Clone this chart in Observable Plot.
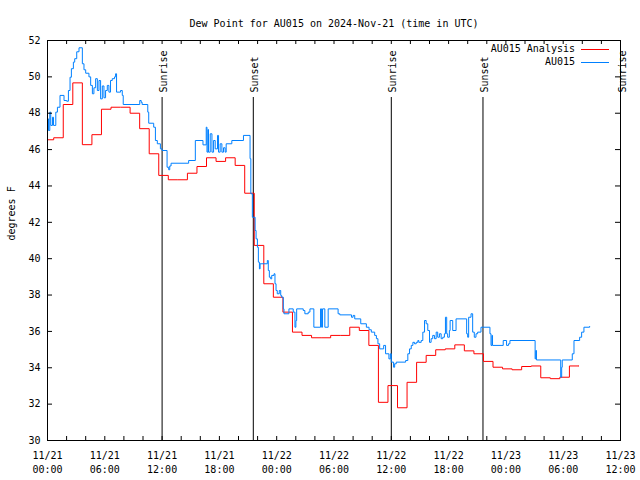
<!DOCTYPE html>
<html><head><meta charset="utf-8">
<script src="https://cdn.jsdelivr.net/npm/d3@7"></script>
<script src="https://cdn.jsdelivr.net/npm/@observablehq/plot@0.6"></script>
<style>body{margin:0;background:#fff}svg{display:block}</style>
</head><body><div id="chart"></div>
<script>
const title = "Dew Point for AU015 on 2024-Nov-21 (time in UTC)";
const yLabel = "degrees F";
const seriesNames = ["AU015 Analysis", "AU015"];
const seriesColors = ["#ff0000", "#0080ff"];
const xDomain = ["2024-11-21T00:00Z", "2024-11-23T12:00Z"];
const yDomain = [30, 52];
const yTicks = [30, 32, 34, 36, 38, 40, 42, 44, 46, 48, 50, 52];
const xTickHours = [0, 6, 12, 18, 24, 30, 36, 42, 48, 54, 60];
const xTickLabels = ["11/21\n00:00", "11/21\n06:00", "11/21\n12:00", "11/21\n18:00", "11/22\n00:00", "11/22\n06:00", "11/22\n12:00", "11/22\n18:00", "11/23\n00:00", "11/23\n06:00", "11/23\n12:00"];
const minorTickHours = [0,2,4,6,8,10,12,14,16,18,20,22,24,26,28,30,32,34,36,38,40,42,44,46,48,50,52,54,56,58,60];
const eventHours = [12, 21.55, 36, 45.6, 60];
const eventLabels = ["Sunrise", "Sunset", "Sunrise", "Sunset", "Sunrise"];

// Analysis: hourly values starting at this time
const redStartUTC = "2024-11-20T23:39Z";
const redValues = [46.54, 46.65, 48.48, 49.67, 46.27, 46.82, 48.22, 48.33, 48.33, 48.0, 47.15, 45.77, 44.58, 44.34, 44.34, 44.7, 45.07, 45.55, 45.35, 45.55, 45.13, 43.6, 40.73, 38.62, 37.88, 37.06, 35.96, 35.78, 35.65, 35.65, 35.78, 35.78, 36.23, 36.05, 35.23, 32.1, 33.02, 31.8, 33.2, 34.3, 34.68, 34.99, 35.04, 35.26, 34.93, 34.77, 34.35, 34.03, 33.94, 33.89, 34.07, 34.1, 33.45, 33.4, 33.48, 34.1, 34.1];

// Observations: hours after 11/21 00:00 UTC and values
const blueHours = [0.00,0.10,0.24,0.34,0.52,0.63,0.87,1.04,1.31,1.73,2.01,2.19,2.36,2.50,2.71,2.85,3.06,3.30,3.65,3.82,4.00,4.34,4.52,4.70,4.86,5.04,5.22,5.39,5.56,5.74,5.91,6.08,6.26,6.43,6.60,6.78,7.02,7.13,7.23,7.65,7.83,7.93,9.66,9.81,9.91,10.50,10.60,11.12,11.30,11.50,11.82,12.00,12.52,12.69,12.80,12.94,14.78,15.48,16.28,16.62,16.70,16.80,16.86,17.04,17.22,17.39,17.56,17.80,17.91,18.08,18.26,18.43,18.60,18.71,19.30,20.52,21.21,21.29,21.45,21.74,21.84,21.98,22.08,22.19,22.26,23.02,23.12,23.23,23.37,23.48,23.72,23.82,23.93,24.06,24.27,24.42,24.52,24.69,24.76,25.28,25.73,25.91,26.01,26.09,26.78,26.95,27.30,27.48,27.89,28.59,28.70,28.80,29.04,29.39,30.43,30.61,31.83,32.00,32.17,32.80,33.39,33.67,33.91,34.26,34.44,34.60,34.78,35.20,35.40,35.75,35.90,36.00,36.24,36.35,36.52,37.50,37.73,37.91,38.09,38.26,38.43,38.61,38.78,38.88,39.13,39.30,39.48,39.65,39.82,40.00,40.17,40.34,40.52,40.70,40.86,41.04,41.22,41.39,41.56,41.67,41.80,41.90,42.08,42.16,42.43,42.78,43.89,44.00,44.10,44.35,44.52,44.69,44.87,45.04,45.39,46.33,46.44,46.54,46.60,47.72,48.07,48.27,48.42,51.06,51.13,51.20,53.74,53.84,53.90,54.95,55.13,55.72,55.93,56.17,56.77];
const blueValues = [47.69,47.05,48.06,47.33,47.78,47.33,48.06,48.33,48.98,48.70,48.66,49.25,49.98,50.45,50.81,51.00,51.38,51.60,50.72,50.39,50.20,50.00,49.53,49.07,49.40,49.90,49.25,49.80,48.79,49.50,48.85,49.25,49.53,49.16,49.80,49.90,50.00,50.17,49.16,49.25,48.98,48.48,48.70,48.60,48.48,48.06,47.45,47.23,46.50,46.32,46.04,45.95,45.03,44.89,45.10,45.25,45.40,46.50,46.26,47.23,45.86,47.10,45.86,46.87,45.86,46.50,46.04,46.78,45.86,46.32,45.86,46.10,45.86,46.32,46.50,46.78,45.50,43.57,42.28,41.55,41.09,40.63,39.81,39.44,39.72,39.90,39.35,38.98,38.89,39.08,39.17,38.62,38.25,38.07,38.25,37.98,37.88,37.24,36.97,37.24,37.06,36.23,36.60,37.24,37.15,36.97,37.06,37.24,36.23,37.24,36.23,37.24,36.23,37.24,36.97,36.91,36.78,36.88,36.69,36.42,36.23,36.09,35.96,35.78,35.60,35.32,35.04,35.23,34.77,34.49,34.77,34.31,34.03,34.22,34.31,34.40,34.77,35.04,35.23,35.40,35.32,35.40,35.50,35.40,35.50,35.96,36.60,36.42,36.05,35.40,35.60,35.78,35.60,35.96,35.68,35.87,35.60,35.68,35.87,36.78,35.87,35.68,36.05,36.60,36.05,36.69,35.87,35.68,36.78,36.97,35.96,35.68,35.87,35.96,36.23,35.87,35.23,35.78,35.23,35.50,35.23,35.32,35.50,34.49,34.95,34.43,33.48,34.03,34.43,34.77,35.50,35.68,35.96,36.23,36.27];

const HOUR = 3600000;
const t0 = Date.parse(xDomain[0]);
const hourDate = h => new Date(t0 + h * HOUR);
const redT0 = Date.parse(redStartUTC);
const red = redValues.map((v, i) => ({t: new Date(redT0 + i * HOUR), v}));
const blue = blueHours.map((h, i) => ({t: hourDate(h), v: blueValues[i]}));
const events = eventHours.map((h, i) => ({t: hourDate(h), label: eventLabels[i]}));

const W = 640, H = 480, mL = 47, mR = 20, mT = 40, mB = 40;
const fw = W - mL - mR, fh = H - mT - mB;
const FONT = "'DejaVu Sans Mono', monospace";

const legend = () => {
  const g = d3.create("svg:g").attr("font-family", FONT).attr("font-size", 10);
  const xr = W - mR;
  seriesNames.forEach((name, i) => {
    const y = mT + 9 + i * 13;
    g.append("text").attr("x", xr - 45).attr("y", y).attr("dy", "0.32em")
      .attr("text-anchor", "end").attr("fill", "black").text(name);
    g.append("line").attr("x1", xr - 39).attr("x2", xr - 11)
      .attr("y1", y + 0.5).attr("y2", y + 0.5).attr("stroke", seriesColors[i]);
  });
  return g.node();
};

const chart = Plot.plot({
  width: W, height: H,
  marginLeft: mL, marginRight: mR, marginTop: mT, marginBottom: mB,
  style: {fontFamily: FONT, fontSize: "10px", background: "white", color: "black"},
  x: {type: "utc", domain: xDomain.map(d => new Date(d)), axis: null},
  y: {domain: yDomain, axis: null},
  marks: [
    Plot.ruleX(events, {x: "t", insetTop: 57, stroke: "black"}),
    Plot.text(events, {x: "t", text: "label", frameAnchor: "top", rotate: -90, textAnchor: "start", dy: 52, dx: -2, fill: "black"}),
    Plot.line(red, {x: "t", y: "v", curve: "step-after", stroke: seriesColors[0], strokeWidth: 1, clip: true}),
    Plot.line(blue, {x: "t", y: "v", curve: "step-after", stroke: seriesColors[1], strokeWidth: 1, clip: true}),
    Plot.ruleX(minorTickHours, {x: hourDate, insetTop: fh - 4, stroke: "black"}),
    Plot.ruleX(minorTickHours, {x: hourDate, insetBottom: fh - 4, stroke: "black"}),
    Plot.ruleY(yTicks, {y: d => d, insetRight: fw - 5, stroke: "black"}),
    Plot.ruleY(yTicks, {y: d => d, insetLeft: fw - 5, stroke: "black"}),
    Plot.frame({stroke: "black"}),
    Plot.text(xTickHours, {x: hourDate, text: (d, i) => xTickLabels[i], frameAnchor: "bottom", lineAnchor: "top", dy: 9, lineHeight: 1.4, fill: "black"}),
    Plot.text(yTicks, {y: d => d, text: d => String(d), frameAnchor: "left", textAnchor: "end", dx: -7, fill: "black"}),
    Plot.text([yLabel], {text: d => d, frameAnchor: "left", rotate: -90, dx: -36, fill: "black"}),
    Plot.text([title], {text: d => d, frameAnchor: "top", dy: -21, fill: "black"}),
    legend
  ]
});
document.getElementById("chart").appendChild(chart);
</script>
</body></html>
